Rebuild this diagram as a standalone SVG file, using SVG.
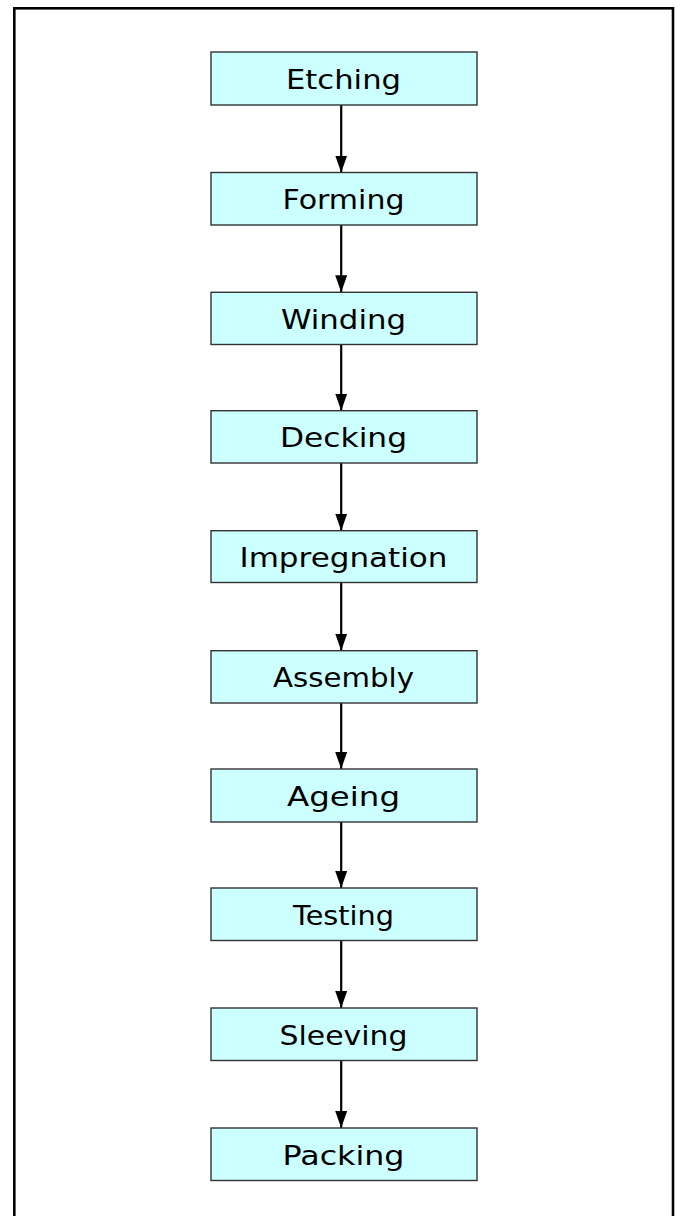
<svg xmlns="http://www.w3.org/2000/svg" width="680" height="1216" viewBox="0 0 680 1216">
<style>
.box{fill:#ccffff;stroke:#333333;stroke-width:1.4}
.lbl{font-family:"DejaVu Sans","Liberation Sans",sans-serif;font-size:27px;fill:#000;text-anchor:middle}
.conn{stroke:#000;stroke-width:2.2;fill:none}
</style>
<defs>
<marker id="ah" viewBox="0 0 17 12" refX="17" refY="6" markerWidth="17" markerHeight="12" markerUnits="userSpaceOnUse" orient="auto">
<path d="M0,0 L17,6 L0,12 z" fill="#000"/>
</marker>
</defs>
<rect width="680" height="1216" fill="#fff"/>
<rect x="14.3" y="8.3" width="658.7" height="1230" fill="none" stroke="#000" stroke-width="2.6"/>
<g id="connectors">
<line class="conn" x1="341.2" y1="105" x2="341.2" y2="172.5" marker-end="url(#ah)"/>
<line class="conn" x1="341.2" y1="225" x2="341.2" y2="292.3" marker-end="url(#ah)"/>
<line class="conn" x1="341.2" y1="344.5" x2="341.2" y2="410.7" marker-end="url(#ah)"/>
<line class="conn" x1="341.2" y1="463" x2="341.2" y2="530.7" marker-end="url(#ah)"/>
<line class="conn" x1="341.2" y1="582.5" x2="341.2" y2="650.7" marker-end="url(#ah)"/>
<line class="conn" x1="341.2" y1="703" x2="341.2" y2="769" marker-end="url(#ah)"/>
<line class="conn" x1="341.2" y1="822" x2="341.2" y2="888" marker-end="url(#ah)"/>
<line class="conn" x1="341.2" y1="940.5" x2="341.2" y2="1008" marker-end="url(#ah)"/>
<line class="conn" x1="341.2" y1="1060.5" x2="341.2" y2="1128" marker-end="url(#ah)"/>
</g>
<g id="etching"><rect class="box" x="211" y="52" width="266" height="53"/><text class="lbl" x="343.5" y="88.5" textLength="115" lengthAdjust="spacingAndGlyphs">Etching</text></g>
<g id="forming"><rect class="box" x="211" y="172.5" width="266" height="52.5"/><text class="lbl" x="343.5" y="209" textLength="122" lengthAdjust="spacingAndGlyphs">Forming</text></g>
<g id="winding"><rect class="box" x="211" y="292.3" width="266" height="52.2"/><text class="lbl" x="343.5" y="328.8" textLength="125" lengthAdjust="spacingAndGlyphs">Winding</text></g>
<g id="decking"><rect class="box" x="211" y="410.7" width="266" height="52.3"/><text class="lbl" x="343.5" y="447.2" textLength="127" lengthAdjust="spacingAndGlyphs">Decking</text></g>
<g id="impregnation"><rect class="box" x="211" y="530.7" width="266" height="51.8"/><text class="lbl" x="343.5" y="567.2" textLength="208" lengthAdjust="spacingAndGlyphs">Impregnation</text></g>
<g id="assembly"><rect class="box" x="211" y="650.7" width="266" height="52.3"/><text class="lbl" x="343.5" y="687.2" textLength="141" lengthAdjust="spacingAndGlyphs">Assembly</text></g>
<g id="ageing"><rect class="box" x="211" y="769" width="266" height="53"/><text class="lbl" x="343.5" y="805.5" textLength="113" lengthAdjust="spacingAndGlyphs">Ageing</text></g>
<g id="testing"><rect class="box" x="211" y="888" width="266" height="52.5"/><text class="lbl" x="343.5" y="924.5" textLength="101" lengthAdjust="spacingAndGlyphs">Testing</text></g>
<g id="sleeving"><rect class="box" x="211" y="1008" width="266" height="52.5"/><text class="lbl" x="343.5" y="1044.5" textLength="128" lengthAdjust="spacingAndGlyphs">Sleeving</text></g>
<g id="packing"><rect class="box" x="211" y="1128" width="266" height="52.5"/><text class="lbl" x="343.5" y="1164.5" textLength="122" lengthAdjust="spacingAndGlyphs">Packing</text></g>
</svg>
